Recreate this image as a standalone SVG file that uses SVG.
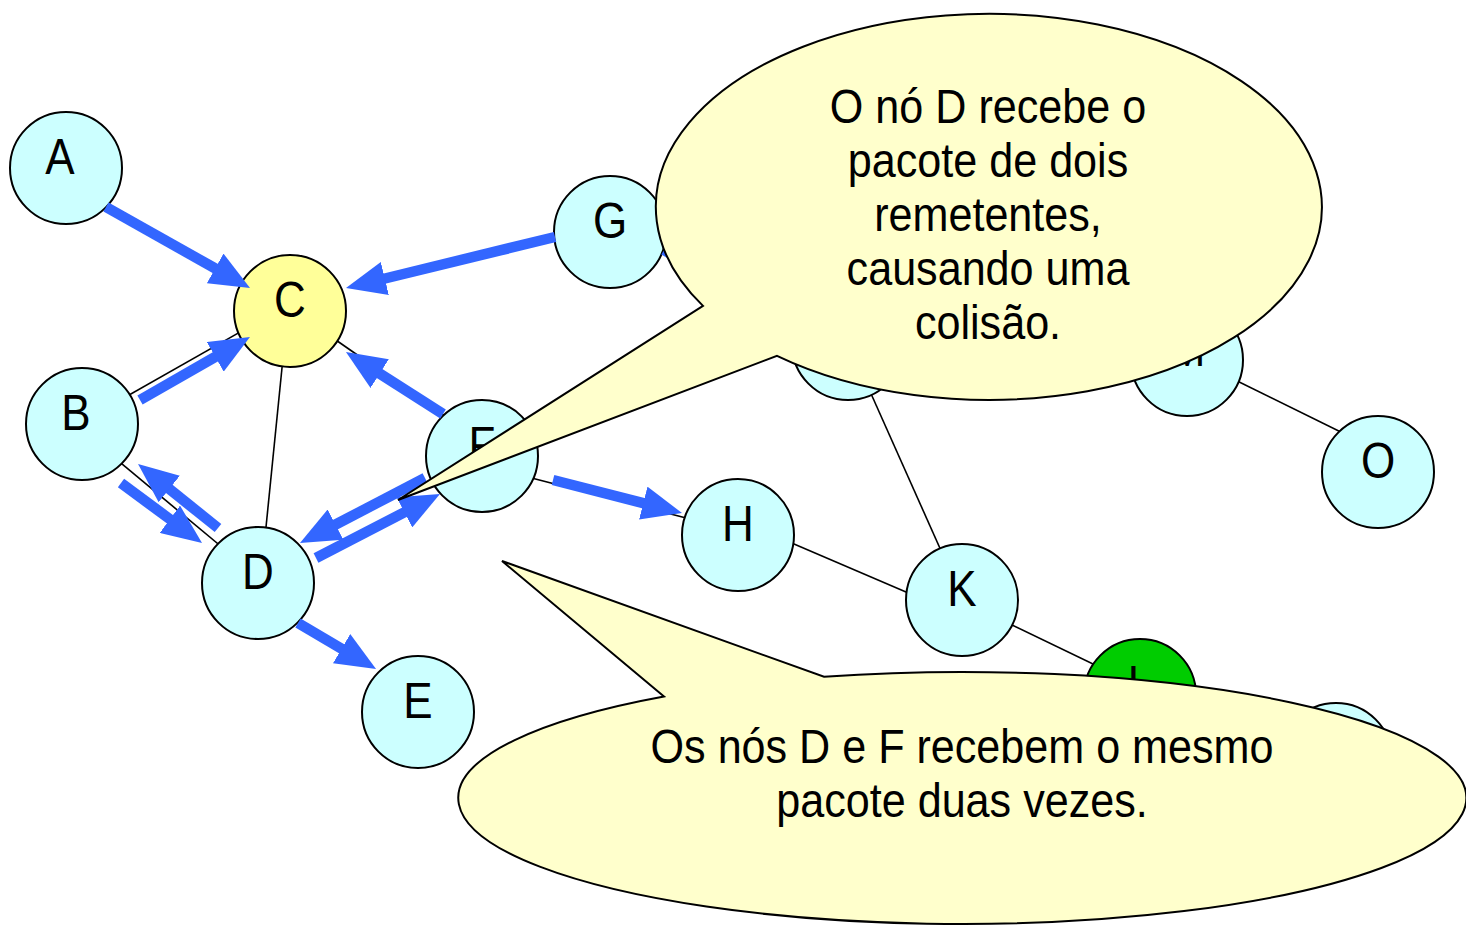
<svg xmlns="http://www.w3.org/2000/svg" width="1466" height="925" viewBox="0 0 1466 925">
<defs>
<style>
.nd{fill:#CCFFFF;stroke:#000;stroke-width:2}
.yl{fill:#FFFF99}
.gr{fill:#00CC00}
.lb{font-family:"Liberation Sans",Arial,sans-serif;font-size:50px;fill:#000;text-anchor:middle}
.ln{stroke:#000;stroke-width:1.6;fill:none}
.ar{stroke:#3366FF;stroke-width:10.5;fill:none;marker-end:url(#ah)}
.co{fill:#FFFFCC;stroke:#000;stroke-width:2;stroke-linejoin:miter}
.ct{font-family:"Liberation Sans",Arial,sans-serif;font-size:49px;fill:#000;text-anchor:middle}
</style>
<marker id="ah" viewBox="0 0 40 34" refX="2" refY="17" markerWidth="40" markerHeight="34" markerUnits="userSpaceOnUse" orient="auto">
<path d="M0,0 L40,17 L0,34 z" fill="#3366FF"/>
</marker>
</defs>
<rect width="1466" height="925" fill="#fff"/>
<g id="links">
<path class="ln" d="M100,411.5 L250,326.4"/>
<path class="ln" d="M284.8,340 L263.2,555"/>
<path class="ln" d="M100,445.7 L235,558"/>
<path class="ln" d="M310,322 L445,416"/>
<path class="ln" d="M520,475 L690,519"/>
<path class="ln" d="M780,538 L920,598"/>
<path class="ln" d="M860,369 L951,573"/>
<path class="ln" d="M985,612 L1120,677"/>
<path class="ln" d="M1225,375 L1355,439"/>
</g>
<g id="node-A"><circle class="nd" cx="66" cy="168" r="56"/><text class="lb" transform="translate(60,174) scale(0.88,1)">A</text></g>
<g id="node-B"><circle class="nd" cx="82" cy="424" r="56"/><text class="lb" transform="translate(76,430) scale(0.88,1)">B</text></g>
<g id="node-C"><circle class="nd yl" cx="290" cy="311" r="56"/><text class="lb" transform="translate(290,317) scale(0.88,1)">C</text></g>
<g id="node-D"><circle class="nd" cx="258" cy="583" r="56"/><text class="lb" transform="translate(258,589) scale(0.88,1)">D</text></g>
<g id="node-E"><circle class="nd" cx="418" cy="712" r="56"/><text class="lb" transform="translate(418,718) scale(0.88,1)">E</text></g>
<g id="node-F"><circle class="nd" cx="482" cy="456" r="56"/><text class="lb" transform="translate(482,462) scale(0.88,1)">F</text></g>
<g id="node-G"><circle class="nd" cx="610" cy="232" r="56"/><text class="lb" transform="translate(610,238) scale(0.88,1)">G</text></g>
<g id="node-H"><circle class="nd" cx="738" cy="535" r="56"/><text class="lb" transform="translate(738,541) scale(0.88,1)">H</text></g>
<g id="node-I"><circle class="nd" cx="848" cy="344" r="56"/></g>
<g id="node-K"><circle class="nd" cx="962" cy="600" r="56"/><text class="lb" transform="translate(962,606) scale(0.88,1)">K</text></g>
<g id="node-L"><circle class="nd gr" cx="1140" cy="695" r="56"/><text class="lb" transform="translate(1140,701) scale(0.88,1)">L</text></g>
<g id="node-M"><circle class="nd" cx="1187" cy="360" r="56"/><text class="lb" transform="translate(1187,366) scale(0.88,1)">M</text></g>
<g id="node-N"><circle class="nd" cx="1336" cy="759" r="56"/></g>
<g id="node-O"><circle class="nd" cx="1378" cy="472" r="56"/><text class="lb" transform="translate(1378,478) scale(0.88,1)">O</text></g>
<g id="arrows">
<path class="ar" d="M106,207 L216.9,269.4"/>
<path class="ar" d="M140,400 L217,355.9"/>
<path class="ar" d="M555,237 L382.9,279"/>
<path class="ar" d="M443,414 L378,372.5"/>
<path class="ar" d="M121,483 L171.5,520.4"/>
<path class="ar" d="M218,528 L167.7,487.7"/>
<path class="ar" d="M425,478 L333.7,525.5"/>
<path class="ar" d="M316,558 L406.2,511.4"/>
<path class="ar" d="M298,623 L343.3,649.7"/>
<path class="ar" d="M553,480 L645.2,503.6"/>
<path class="ar" d="M664,250 L767.2,310.7"/>
</g>
<g id="callout-top">
<path class="co" d="M703,305.9 L398,500 L777,355.8 A333,193 0 1 0 703,305.9 Z"/>
<text class="ct" transform="translate(988,123) scale(0.88,1)">O nó D recebe o</text>
<text class="ct" transform="translate(988,177) scale(0.88,1)">pacote de dois</text>
<text class="ct" transform="translate(988,231) scale(0.88,1)">remetentes,</text>
<text class="ct" transform="translate(988,285) scale(0.88,1)">causando uma</text>
<text class="ct" transform="translate(988,339) scale(0.88,1)">colisão.</text>
</g>
<g id="callout-bottom">
<path class="co" d="M664,696.4 L502,561 L824,676.8 A504,126 0 1 1 664,696.4 Z"/>
<text class="ct" transform="translate(962,763) scale(0.88,1)">Os nós D e F recebem o mesmo</text>
<text class="ct" transform="translate(962,817) scale(0.88,1)">pacote duas vezes.</text>
</g>
</svg>
